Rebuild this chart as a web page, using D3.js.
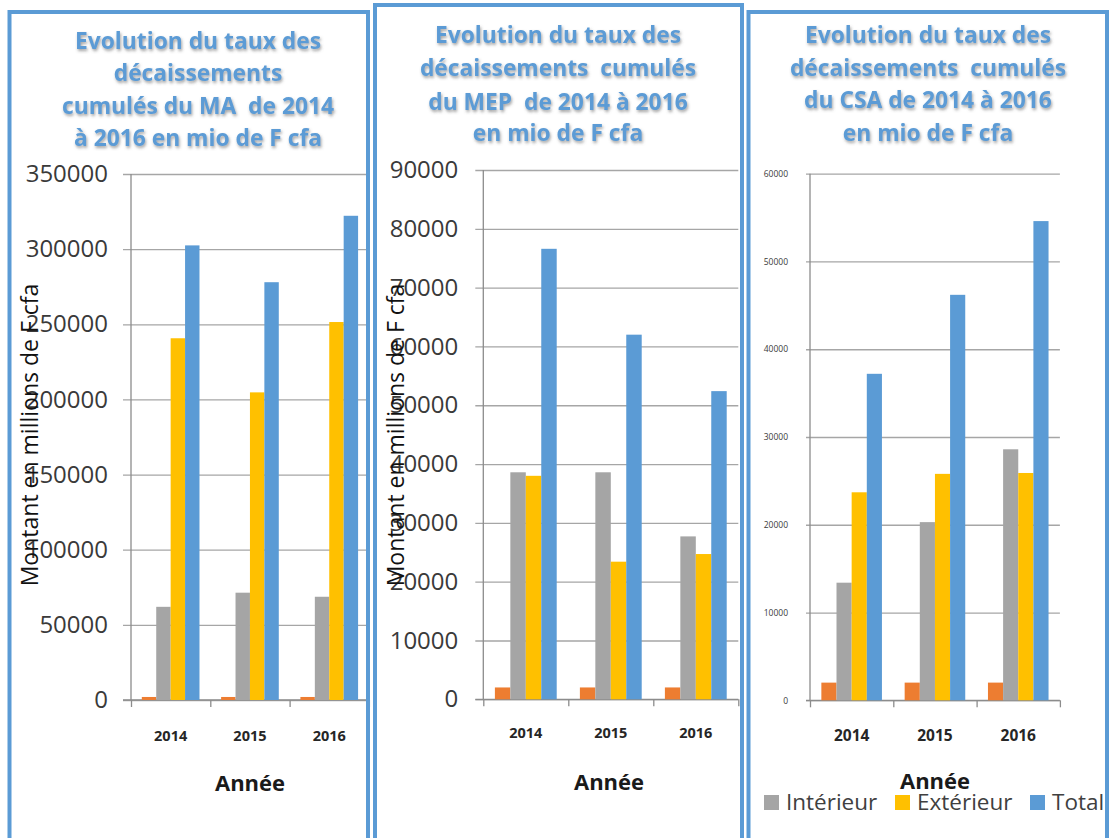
<!DOCTYPE html>
<html>
<head>
<meta charset="utf-8">
<script src="https://cdn.jsdelivr.net/npm/d3@7"></script>
<style>
  body { margin: 0; background: #fff; }
  svg { display: block; }
</style>
</head>
<body>
<div id="chart"></div>
<script>
// categories and series
var years = ["2014", "2015", "2016"];
var seriesNames = ["Année", "Intérieur", "Extérieur", "Total"];
var legendNames = ["Intérieur", "Extérieur", "Total"];
var colors = { "Année": "#ed7d31", "Intérieur": "#a5a5a5", "Extérieur": "#ffc000", "Total": "#5b9bd5" };

// the "Année" column got plotted as its own series (values 2014..2016)
var anneeValues = [2014, 2015, 2016];

// MA
var maInterieur = [62000, 71400, 68700];
var maExterieur = [240700, 204700, 251500];
var maTotal = [302500, 278000, 322200];
var maTicks = [0, 50000, 100000, 150000, 200000, 250000, 300000, 350000];

// MEP
var mepInterieur = [38600, 38600, 27700];
var mepExterieur = [38000, 23400, 24700];
var mepTotal = [76600, 62000, 52400];
var mepTicks = [0, 10000, 20000, 30000, 40000, 50000, 60000, 70000, 80000, 90000];

// CSA
var csaInterieur = [13400, 20300, 28600];
var csaExterieur = [23700, 25800, 25900];
var csaTotal = [37200, 46200, 54600];
var csaTicks = [0, 10000, 20000, 30000, 40000, 50000, 60000];

var titleMA = ["Evolution du taux des", "décaissements", "cumulés du MA  de 2014", "à 2016 en mio de F cfa"];
var titleMEP = ["Evolution du taux des", "décaissements  cumulés", "du MEP  de 2014 à 2016", "en mio de F cfa"];
var titleCSA = ["Evolution du taux des", "décaissements  cumulés", "du CSA de 2014 à 2016", "en mio de F cfa"];

var yTitleText = "Montant en millions de F cfa";
var xTitleText = "Année";

// svg
var svgWidth = 1110, svgHeight = 838;
var svg = d3.select("#chart").append("svg")
    .attr("width", svgWidth)
    .attr("height", svgHeight);

// soft shadow under the titles
var defs = svg.append("defs");
var shadow = defs.append("filter").attr("id", "tshadow")
    .attr("x", "-10%").attr("y", "-30%").attr("width", "120%").attr("height", "170%");
shadow.append("feDropShadow")
    .attr("dx", 1).attr("dy", 2).attr("stdDeviation", 1.6)
    .attr("flood-color", "#555").attr("flood-opacity", 0.55);

function rows(i, e, t) {
  return years.map(function(y, k) {
    return { year: y, "Année": anneeValues[k], "Intérieur": i[k], "Extérieur": e[k], "Total": t[k] };
  });
}

// layout of each panel (positions only, data comes from the arrays above)
var panels = [
  { data: rows(maInterieur, maExterieur, maTotal), ticks: maTicks, title: titleMA,
    box: [9.5, 12, 358.5], left: 131, top: 174, zero: 700, cat: 79.3,
    tickFont: 24, tickOut: 8, tickPad: 23, titleX: 198, titleY: [41, 73, 106, 138],
    yTitleX: 30, yearY: 736, yearFont: 14.5, anneeX: 250, anneeY: 783, legend: false },
  { data: rows(mepInterieur, mepExterieur, mepTotal), ticks: mepTicks, title: titleMEP,
    box: [375, 5, 367], left: 483.3, top: 170, zero: 699.3, cat: 85,
    tickFont: 24, tickOut: 8, tickPad: 25, titleX: 558, titleY: [35, 68, 102, 133],
    yTitleX: 396, yearY: 733, yearFont: 14.5, anneeX: 609, anneeY: 782, legend: false },
  { data: rows(csaInterieur, csaExterieur, csaTotal), ticks: csaTicks, title: titleCSA,
    box: [748.5, 12, 358.5], left: 810, top: 173.7, zero: 700.3, cat: 83.3,
    tickFont: 8.5, tickOut: 4, tickPad: 22, titleX: 928, titleY: [35, 68, 100, 133],
    yTitleX: null, yearY: 736, yearFont: 15.5, anneeX: 935, anneeY: 781, legend: true }
];

panels.forEach(function(p) {
  var g = svg.append("g");
  var plotW = p.cat * years.length;

  // scales
  var x0 = d3.scaleBand().domain(years).range([p.left, p.left + plotW]).padding(0);
  var gap = p.cat * 0.75 / 5.5;   // excel gap width 150%
  var x1 = d3.scaleBand().domain(seriesNames).range([gap, p.cat - gap]).padding(0);
  var yMax = p.ticks[p.ticks.length - 1];
  var y = d3.scaleLinear().domain([0, yMax]).range([p.zero, p.top]);
  var xEdge = d3.scaleLinear().domain([0, years.length]).range([p.left, p.left + plotW]);

  // gridlines + y tick labels
  var yAxis = g.append("g")
      .attr("transform", "translate(" + p.left + ",0)")
      .call(d3.axisLeft(y).tickValues(p.ticks).tickSize(-plotW).tickPadding(p.tickPad).tickFormat(d3.format("d")));
  yAxis.select(".domain").remove();
  yAxis.selectAll(".tick line").attr("x1", -p.tickOut).attr("stroke", "#a6a6a6").attr("stroke-width", 1.3);
  yAxis.selectAll(".tick text")
      .style("font-family", "'Open Sans', sans-serif")
      .style("font-size", p.tickFont + "px")
      .attr("fill", "#3a3a3a");

  // axis lines
  g.append("line")
      .attr("x1", p.left).attr("x2", p.left)
      .attr("y1", p.top).attr("y2", p.zero)
      .attr("stroke", "#8c8c8c").attr("stroke-width", 1.3);

  var xAxis = g.append("g")
      .attr("transform", "translate(0," + p.zero + ")")
      .call(d3.axisBottom(xEdge).tickValues(d3.range(years.length + 1)).tickSize(7).tickFormat(""));
  xAxis.select(".domain").remove();
  xAxis.selectAll(".tick line").attr("stroke", "#8c8c8c").attr("stroke-width", 1.3);
  g.append("line")
      .attr("x1", p.left - p.tickOut).attr("x2", p.left + plotW)
      .attr("y1", p.zero).attr("y2", p.zero)
      .attr("stroke", "#8c8c8c").attr("stroke-width", 1.3);

  // bars
  g.append("g").selectAll("g")
    .data(p.data)
    .enter()
    .append("g")
    .attr("transform", function(d) { return "translate(" + x0(d.year) + ",0)"; })
    .selectAll("rect")
    .data(function(d) { return seriesNames.map(function(s) { return { key: s, value: d[s] }; }); })
    .enter()
    .append("rect")
    .attr("x", function(d) { return x1(d.key); })
    .attr("width", x1.bandwidth())
    .attr("y", function(d) { return y(d.value); })
    .attr("height", function(d) { return p.zero - y(d.value); })
    .attr("fill", function(d) { return colors[d.key]; });

  // year labels
  var yearAxis = g.append("g")
      .attr("transform", "translate(0," + p.yearY + ")")
      .call(d3.axisBottom(x0).tickSize(0).tickPadding(0));
  yearAxis.select(".domain").remove();
  yearAxis.selectAll(".tick text")
      .attr("dy", "0.35em")
      .style("font-family", "'Open Sans', sans-serif")
      .style("font-weight", "bold")
      .style("font-size", p.yearFont + "px")
      .attr("fill", "#262626");

  // x title
  g.append("text")
      .attr("x", p.anneeX).attr("y", p.anneeY)
      .attr("text-anchor", "middle").attr("dy", "0.35em")
      .style("font-family", "'Open Sans', sans-serif")
      .style("font-weight", "bold").style("font-size", "22px")
      .attr("fill", "#1a1a1a")
      .text(xTitleText);

  // y title (drawn over the tick labels, like the original)
  if (p.yTitleX !== null) {
    g.append("text")
        .attr("transform", "translate(" + p.yTitleX + ",435) rotate(-90)")
        .attr("text-anchor", "middle").attr("dy", "0.35em")
        .style("font-family", "'Open Sans', sans-serif")
        .style("font-size", "23px")
        .attr("fill", "#111")
        .text(yTitleText);
  }

  // title
  g.append("g").attr("filter", "url(#tshadow)")
    .selectAll("text")
    .data(p.title)
    .enter()
    .append("text")
    .attr("x", p.titleX)
    .attr("y", function(d, i) { return p.titleY[i]; })
    .attr("dy", "0.35em")
    .attr("text-anchor", "middle")
    .style("font-family", "'Open Sans', sans-serif")
    .style("font-weight", "bold")
    .style("font-size", "22.8px")
    .style("white-space", "pre")
    .attr("fill", "#5b9bd5")
    .text(function(d) { return d; });

  // legend
  if (p.legend) {
    var legX = [764, 895, 1030];
    var leg = g.append("g").selectAll("g")
      .data(legendNames)
      .enter()
      .append("g")
      .attr("transform", function(d, i) { return "translate(" + legX[i] + ",795)"; });
    leg.append("rect")
      .attr("width", 15).attr("height", 15)
      .attr("fill", function(d) { return colors[d]; });
    leg.append("text")
      .attr("x", 22).attr("y", 7.5).attr("dy", "0.35em")
      .style("font-family", "'Open Sans', sans-serif")
      .style("font-size", "22.5px")
      .attr("fill", "#404040")
      .text(function(d) { return d; });
  }

  // panel frame
  g.append("rect")
      .attr("x", p.box[0]).attr("y", p.box[1])
      .attr("width", p.box[2]).attr("height", 900)
      .attr("fill", "none")
      .attr("stroke", "#5b9bd5").attr("stroke-width", 4);
});
</script>
</body>
</html>
